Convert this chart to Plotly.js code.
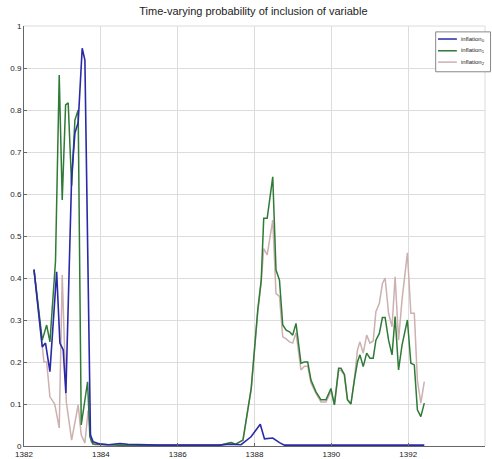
<!DOCTYPE html>
<html><head><meta charset="utf-8">
<script src="https://cdn.plot.ly/plotly-3.0.1.min.js"></script>
<style>html,body{margin:0;padding:0;background:#fff}#chart{width:492px;height:459px}</style>
</head><body><div id="chart"></div>
<script>
const blueX = [1382.26,1382.475,1382.56,1382.675,1382.85,1382.935,1383.02,1383.09,1383.24,1383.325,1383.41,1383.515,1383.585,1383.73,1383.8,1383.97,1384.2,1384.5,1384.7,1385.0,1385.5,1386.0,1386.5,1387.09,1387.35,1387.65,1387.91,1388.15,1388.26,1388.475,1388.65,1388.78,1389.5,1390.5,1391.5,1392.42];
const blueY = [0.42,0.236,0.245,0.177,0.415,0.245,0.229,0.126,0.641,0.745,0.77,0.947,0.919,0.026,0.01,0.005,0.003,0.006,0.004,0.003,0.002,0.002,0.002,0.002,0.004,0.003,0.022,0.052,0.017,0.019,0.008,0.002,0.002,0.002,0.002,0.002];

const greenX = [1382.26,1382.475,1382.59,1382.675,1382.82,1382.917,1382.995,1383.083,1383.15,1383.24,1383.325,1383.41,1383.49,1383.655,1383.715,1383.79,1384.5,1385.5,1386.5,1387.09,1387.39,1387.5,1387.7,1387.915,1388.085,1388.175,1388.24,1388.33,1388.475,1388.56,1388.65,1388.735,1388.825,1388.91,1388.995,1389.08,1389.21,1389.3,1389.385,1389.47,1389.6,1389.73,1389.86,1389.99,1390.08,1390.19,1390.25,1390.34,1390.42,1390.51,1390.6,1390.68,1390.745,1390.83,1390.92,1391.005,1391.09,1391.16,1391.25,1391.33,1391.4,1391.49,1391.58,1391.66,1391.75,1391.84,1391.98,1392.07,1392.16,1392.24,1392.33,1392.42];
const greenY = [0.42,0.252,0.288,0.248,0.44,0.883,0.586,0.812,0.817,0.62,0.776,0.8,0.05,0.153,0.022,0.005,0.002,0.002,0.002,0.002,0.008,0.004,0.014,0.138,0.324,0.395,0.542,0.542,0.641,0.419,0.395,0.288,0.276,0.272,0.264,0.292,0.197,0.2,0.2,0.157,0.129,0.11,0.11,0.137,0.098,0.185,0.185,0.17,0.11,0.1,0.157,0.2,0.217,0.189,0.221,0.209,0.209,0.252,0.268,0.306,0.306,0.252,0.217,0.308,0.181,0.24,0.3,0.197,0.193,0.086,0.07,0.102];

const pinkX = [1382.26,1382.45,1382.52,1382.59,1382.675,1382.8,1382.917,1382.995,1383.1,1383.24,1383.41,1383.49,1383.585,1383.67,1383.75,1383.85,1384.5,1385.5,1386.5,1387.09,1387.39,1387.5,1387.7,1387.915,1388.085,1388.175,1388.24,1388.33,1388.475,1388.56,1388.65,1388.735,1388.825,1388.91,1388.995,1389.08,1389.21,1389.3,1389.385,1389.47,1389.6,1389.73,1389.86,1389.99,1390.08,1390.19,1390.25,1390.34,1390.42,1390.51,1390.6,1390.68,1390.745,1390.83,1390.92,1391.005,1391.09,1391.16,1391.25,1391.33,1391.4,1391.49,1391.58,1391.66,1391.75,1391.84,1391.98,1392.07,1392.16,1392.24,1392.33,1392.42];
const pinkY = [0.42,0.25,0.2,0.2,0.117,0.1,0.043,0.407,0.106,0.014,0.098,0.026,0.007,0.085,0.01,0.003,0.002,0.002,0.002,0.002,0.008,0.004,0.014,0.135,0.32,0.39,0.47,0.455,0.538,0.363,0.356,0.26,0.255,0.248,0.245,0.27,0.181,0.19,0.19,0.15,0.125,0.105,0.105,0.13,0.098,0.18,0.18,0.17,0.11,0.1,0.16,0.229,0.248,0.221,0.264,0.245,0.25,0.32,0.34,0.387,0.4,0.316,0.284,0.403,0.252,0.348,0.46,0.316,0.316,0.157,0.102,0.153];

const seriesNames = ['inflation<sub>0</sub>','inflation<sub>1</sub>','inflation<sub>2</sub>'];
const seriesColors = ['#2a2aa8','#2f7a36','#cdb0b0'];
const xTicks = [1382,1384,1386,1388,1390,1392,1394];
const yTicks = [0,0.1,0.2,0.3,0.4,0.5,0.6,0.7,0.8,0.9,1];
const yTickText = ['0','0.1','0.2','0.3','0.4','0.5','0.6','0.7','0.8','0.9','1'];

const traces = [
  {x: pinkX, y: pinkY, name: seriesNames[2], mode:'lines', line:{color:seriesColors[2], width:1.5}},
  {x: greenX, y: greenY, name: seriesNames[1], mode:'lines', line:{color:seriesColors[1], width:1.5}},
  {x: blueX, y: blueY, name: seriesNames[0], mode:'lines', line:{color:seriesColors[0], width:1.6}}
];

const fontFam = '"Liberation Sans Narrow", "Liberation Sans", Arial, sans-serif';

// custom compact legend (paper coordinates)
const legBox = {x0: 0.893, x1: 1.012, y0: 0.891, y1: 0.986};
const legRows = [0.969, 0.941, 0.914];
const shapes = [
  {type:'line', xref:'paper', yref:'paper', x0:0, x1:1, y0:1, y1:1, line:{color:'#dcdcdc', width:1}},
  {type:'line', xref:'paper', yref:'paper', x0:1, x1:1, y0:0, y1:1, line:{color:'#dcdcdc', width:1}},
  {type:'rect', xref:'paper', yref:'paper', x0:legBox.x0, x1:legBox.x1, y0:legBox.y0, y1:legBox.y1, fillcolor:'#fff', line:{color:'#888', width:1}, layer:'above'}
];
const annotations = [];
seriesNames.forEach((n, i) => {
  shapes.push({type:'line', xref:'paper', yref:'paper', x0:0.898, x1:0.939, y0:legRows[i], y1:legRows[i], line:{color:seriesColors[i], width:1.5}, layer:'above'});
  annotations.push({xref:'paper', yref:'paper', x:0.943, y:legRows[i], xanchor:'left', yanchor:'middle', text:n, showarrow:false, font:{size:6, family:fontFam, color:'#222'}});
});

const layout = {
  width: 492, height: 459,
  margin: {l: 24, r: 7, t: 26, b: 13, pad: 0},
  paper_bgcolor: '#fff', plot_bgcolor: '#fff',
  font: {family: fontFam, size: 8, color: '#222'},
  title: {text: 'Time-varying probability of inclusion of variable', font: {family: fontFam, size: 11, color: '#222'}, x: 0.515, xanchor: 'center', y: 0.976, yanchor: 'middle'},
  xaxis: {range: [1382, 1394], tickvals: xTicks, ticktext: xTicks.map(String), showgrid: true, gridcolor: '#dcdcdc', gridwidth: 1,
          zeroline: false, showline: true, linecolor: '#666', linewidth: 1, mirror: false, ticks: 'inside', ticklen: 3, tickcolor: '#666',
          tickfont: {size: 8}, fixedrange: true},
  yaxis: {range: [0, 1], tickvals: yTicks, ticktext: yTickText, showgrid: true, gridcolor: '#dcdcdc', gridwidth: 1,
          zeroline: false, showline: true, linecolor: '#666', linewidth: 1, mirror: false, ticks: 'inside', ticklen: 3, tickcolor: '#666',
          tickfont: {size: 8}, fixedrange: true},
  showlegend: false,
  shapes: shapes,
  annotations: annotations
};
Plotly.newPlot('chart', traces, layout, {displayModeBar: false, staticPlot: true});
</script></body></html>
